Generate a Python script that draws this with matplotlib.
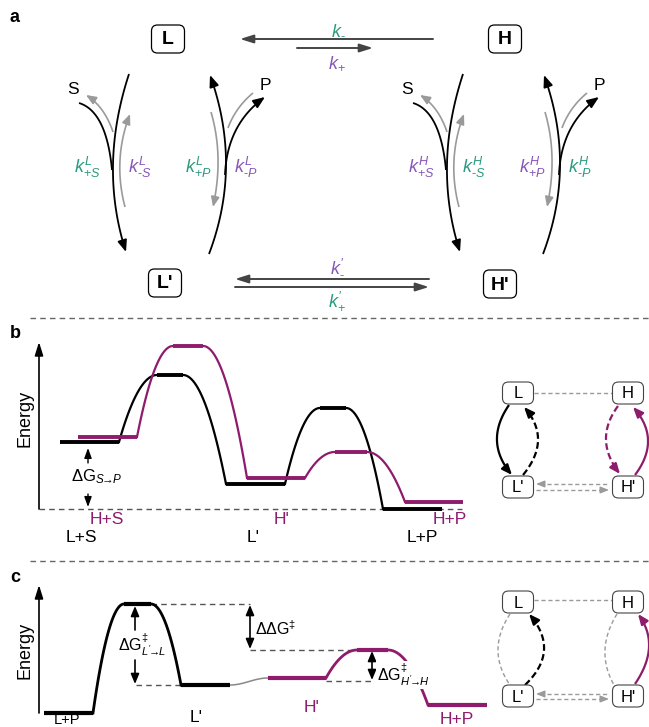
import numpy as np
import matplotlib.pyplot as plt
from matplotlib.patches import FancyBboxPatch

plt.rcParams['font.family'] = ['Liberation Sans', 'DejaVu Sans']
plt.rcParams['mathtext.fontset'] = 'custom'
plt.rcParams['mathtext.rm'] = 'Liberation Sans'
plt.rcParams['mathtext.it'] = 'Liberation Sans:italic'
plt.rcParams['mathtext.bf'] = 'Liberation Sans:bold'

W, H = 649, 727
TEAL = '#2a9a80'
LAV = '#8757b8'
MAG = '#8e1b6c'
GRAY = '#9a9a9a'
DARK = '#444444'
HY = '\u2010'   # short hyphen instead of the long math minus

# energy levels (arbitrary units, 0 = lowest state of each panel)
b_states = ['L+S', "L'", 'L+P']
b_black_E = [0.67, 1.34, 0.25, 1.01, 0.0]      # L: S-bound, TS1, L', TS2, P
b_purple_E = [0.72, 1.63, 0.31, 0.57, 0.07]    # H
c_black_E = [0.0, 1.09, 0.28]                  # L+P, TS, L'
c_purple_E = [0.35, 0.63, 0.08]                # H', TS, H+P

# reaction coordinate spans of each plateau (px along the figure)
b_black_x = [(60, 119), (157, 183), (226, 285), (320, 346), (383, 442)]
b_purple_x = [(78, 137), (173, 203), (247, 305), (335, 367), (405, 463)]
c_black_x = [(44, 93), (124, 151), (181, 230)]
c_purple_x = [(268, 326), (357, 388), (428, 487)]

fig = plt.figure(figsize=(W / 100, H / 100), dpi=100)
ax = fig.add_axes([0, 0, 1, 1])
ax.set_xlim(0, W)
ax.set_ylim(H, 0)
ax.axis('off')


def sub_axes(top, bottom, base, scale=100.0):
    a = fig.add_axes([0, 1 - bottom / H, 1, (bottom - top) / H])
    a.set_xlim(0, W)
    a.set_ylim(-(bottom - base) / scale, (base - top) / scale)
    a.axis('off')
    return a


def head(axx, p_from, p_to, color, lw=1.2, hl=0.7, hw=0.28, ls='-'):
    axx.annotate('', xy=p_to, xytext=p_from,
                 arrowprops=dict(arrowstyle=f'-|>,head_length={hl},head_width={hw}',
                                 color=color, lw=lw, ls=ls, shrinkA=0, shrinkB=0))


def curve(axx, p0, pm, p1, color, lw=1.3, ls='-', arrow=True, hl=0.7, hw=0.28):
    p0, pm, p1 = map(np.asarray, (p0, pm, p1))
    c = 2 * pm - 0.5 * (p0 + p1)
    t = np.linspace(0, 1, 80)[:, None]
    pts = (1 - t) ** 2 * p0 + 2 * (1 - t) * t * c + t ** 2 * p1
    if arrow:
        pts = pts[:-4]
    axx.plot(pts[:, 0], pts[:, 1], color=color, lw=lw, ls=ls, solid_capstyle='butt')
    if arrow:
        d = p1 - c
        d = d / np.hypot(*d)
        head(axx, p1 - d * 5, p1, color, lw=lw, hl=hl, hw=hw)


def box(cx, cy, w, h, txt, bold=False, fs=12, lw=0.9, ec='black'):
    ax.add_patch(FancyBboxPatch((cx - w / 2, cy - h / 2), w, h,
                                boxstyle='round,pad=0,rounding_size=6',
                                fc='white', ec=ec, lw=lw, zorder=3))
    ax.text(cx, cy + 1, txt, ha='center', va='center', fontsize=fs,
            fontweight='bold' if bold else 'normal', zorder=4)


def profile(axx, spans, E, color, lw_level, lw_curve, p=2.0):
    for (x0, x1), e in zip(spans, E):
        axx.plot([x0, x1], [e, e], color=color, lw=lw_level, solid_capstyle='butt', zorder=3)
    for i in range(len(E) - 1):
        xa, ea = spans[i][1], E[i]
        xb, eb = spans[i + 1][0], E[i + 1]
        u = np.linspace(0, 1, 80)
        if eb > ea:
            y = eb + (ea - eb) * (1 - u) ** p
        else:
            y = ea + (eb - ea) * u ** p
        axx.plot(xa + (xb - xa) * u, y, color=color, lw=lw_curve, zorder=3)


# ---------------- panel a ----------------
ax.text(10, 18, 'a', fontsize=13, fontweight='bold', va='center')
box(168, 39, 33, 28, 'L', bold=True, fs=14)
box(505, 39, 33, 28, 'H', bold=True, fs=14)
box(165, 283, 33, 28, "L'", bold=True, fs=14)
box(500, 284, 33, 28, "H'", bold=True, fs=14)

head(ax, (433, 39), (240, 39), DARK, lw=1.4, hl=0.8, hw=0.25)
head(ax, (297, 48), (373, 48), DARK, lw=1.4, hl=0.8, hw=0.25)
ax.text(338, 29, r'$k_{%s}$' % HY, color=TEAL, fontsize=13, ha='center', va='center')
ax.text(337, 63, r'$k_{+}$', color=LAV, fontsize=13, ha='center', va='center')
head(ax, (429, 279), (235, 279), DARK, lw=1.4, hl=0.8, hw=0.25)
head(ax, (235, 287), (429, 287), DARK, lw=1.4, hl=0.8, hw=0.25)
ax.text(337, 266, r"$k^{\prime}_{%s}$" % HY, color=LAV, fontsize=13, ha='center', va='center')
ax.text(337, 301, r"$k^{\prime}_{+}$", color=TEAL, fontsize=13, ha='center', va='center')

for dx, sup, cols in [(0, 'L', (TEAL, LAV, TEAL, LAV)), (334, 'H', (LAV, TEAL, LAV, TEAL))]:
    def P(x, y):
        return (x + dx, y)
    # substrate side
    curve(ax, P(129, 74), P(113, 165), P(126, 252), 'black', lw=1.3)
    curve(ax, P(79, 103), P(101, 124), P(112, 170), 'black', lw=1.3, arrow=False)
    curve(ax, P(113, 132), P(102, 110), P(86, 95), GRAY, lw=1.2, hl=0.6, hw=0.25)
    curve(ax, P(125, 207), P(120, 160), P(130, 114), GRAY, lw=1.2, hl=0.6, hw=0.25)
    # product side
    curve(ax, P(209, 254), P(226, 165), P(210, 75), 'black', lw=1.3)
    curve(ax, P(225, 175), P(236, 130), P(265, 97), 'black', lw=1.3)
    curve(ax, P(228, 128), P(238, 109), P(253, 93), GRAY, lw=1.2, arrow=False)
    curve(ax, P(211, 112), P(218, 158), P(213, 207), GRAY, lw=1.2, hl=0.6, hw=0.25)
    ax.text(*P(73, 90), 'S', fontsize=12.5, ha='center', va='center')
    ax.text(*P(265, 86), 'P', fontsize=12.5, ha='center', va='center')
    for xl, lab, col in zip([87, 140, 198, 246], ['+S', HY + 'S', '+P', HY + 'P'], cols):
        ax.text(*P(xl, 167), r'$k^{%s}_{%s}$' % (sup, lab), color=col, fontsize=13,
                ha='center', va='center')

# separators
for ys in [318, 561]:
    ax.plot([30, W], [ys, ys], color='#666666', lw=1, ls=(0, (4, 3)))

# ---------------- panel b ----------------
ax.text(10, 333, 'b', fontsize=13, fontweight='bold', va='center')
axb = sub_axes(330, 545, 509)
head(axb, (39, 0), (39, 1.67), 'black', lw=1.2, hl=0.8, hw=0.25)
axb.plot([39, 462], [0, 0], color='#555555', lw=1, ls=(0, (4, 3)))
axb.text(25, 0.91, 'Energy', rotation=90, fontsize=13, ha='center', va='center')
profile(axb, b_black_x, b_black_E, 'black', 2.8, 1.6)
profile(axb, b_purple_x, b_purple_E, MAG, 2.8, 1.6)
head(axb, (88, 0.46), (88, 0.61), 'black', lw=1, hl=0.6, hw=0.22)
head(axb, (88, 0.15), (88, 0.02), 'black', lw=1, hl=0.6, hw=0.22)
axb.text(71, 0.32, r'$\Delta\mathrm{G}_{S\!\!\rightarrow\!\! P}$', fontsize=12, va='center')
for x, lab in zip([107, 282, 450], ['H+S', "H'", 'H+P']):
    axb.text(x, -0.10, lab, color=MAG, fontsize=12.5, ha='center', va='center')
for x, lab in zip([81, 253, 422], b_states):
    axb.text(x, -0.29, lab, color='black', fontsize=12.5, ha='center', va='center')

# mini scheme b
for (cx, cy), t in zip([(518, 393), (628, 393), (518, 487), (628, 487)], ['L', 'H', "L'", "H'"]):
    box(cx, cy, 31, 22, t, fs=12, lw=0.8, ec='#444444')
ax.plot([534, 612], [393, 393], color=GRAY, lw=1, ls=(0, (3, 2)))
ax.plot([540, 607], [484, 484], color=GRAY, lw=1, ls=(0, (3, 2)))
head(ax, (542, 484), (536, 484), GRAY, lw=1, hl=0.5, hw=0.2)
ax.plot([536, 603], [490, 490], color=GRAY, lw=1, ls=(0, (3, 2)))
head(ax, (602, 490), (609, 490), GRAY, lw=1, hl=0.5, hw=0.2)
curve(ax, (509, 405), (497, 441), (512, 475), 'black', lw=1.6, hl=0.6, hw=0.25)
curve(ax, (523, 475), (538, 440), (524, 407), 'black', lw=1.6, ls=(0, (3, 1.5)), hl=0.6, hw=0.25)
curve(ax, (618, 406), (606, 440), (620, 474), MAG, lw=1.6, ls=(0, (3, 1.5)), hl=0.6, hw=0.25)
curve(ax, (635, 475), (648, 440), (633, 407), MAG, lw=1.6, hl=0.6, hw=0.25)

# ---------------- panel c ----------------
ax.text(10, 577, 'c', fontsize=13, fontweight='bold', va='center')
axc = sub_axes(575, 727, 713)
head(axc, (39, 0.0), (39, 1.28), 'black', lw=1.2, hl=0.8, hw=0.25)
axc.text(25, 0.63, 'Energy', rotation=90, fontsize=13, ha='center', va='center')
profile(axc, c_black_x, c_black_E, 'black', 3.0, 2.0)
profile(axc, c_purple_x, c_purple_E, MAG, 3.0, 2.0)
u = np.linspace(0, 1, 50)
xa, xb = c_black_x[-1][1], c_purple_x[0][0]
axc.plot(xa + (xb - xa) * u, c_black_E[-1] + (c_purple_E[0] - c_black_E[-1]) * (1 - np.cos(np.pi * u)) / 2,
         color='#888888', lw=1.1)
dash = dict(color='#555555', lw=1, ls=(0, (4, 3)))
axc.plot([151, 250], [c_black_E[1]] * 2, **dash)
axc.plot([250, 357], [c_purple_E[1]] * 2, **dash)
axc.plot([136, 181], [c_black_E[2]] * 2, **dash)
axc.plot([326, 372], [c_purple_E[0] - 0.03] * 2, **dash)
head(axc, (135, 0.83), (135, 1.07), 'black', lw=1.2, hl=0.6, hw=0.25)
head(axc, (135, 0.53), (135, 0.29), 'black', lw=1.2, hl=0.6, hw=0.25)
axc.text(118, 0.68, r"$\Delta\mathrm{G}^{\ddag}_{L^{\prime}\!\!\rightarrow\!\! L}$", fontsize=11.5,
         va='center', bbox=dict(fc='white', ec='none', pad=0.5), zorder=5)
axc.annotate('', xy=(250, c_black_E[1] - 0.01), xytext=(250, c_purple_E[1] + 0.01),
             arrowprops=dict(arrowstyle='<|-|>,head_length=0.6,head_width=0.25', color='black', lw=1.2,
                             shrinkA=0, shrinkB=0))
axc.text(255, 0.84, r'$\Delta\Delta\mathrm{G}^{\ddag}$', fontsize=11.5, va='center')
axc.annotate('', xy=(372, c_purple_E[1] - 0.01), xytext=(372, c_purple_E[0] - 0.02),
             arrowprops=dict(arrowstyle='<|-|>,head_length=0.6,head_width=0.25', color='black', lw=1.2,
                             shrinkA=0, shrinkB=0))
axc.text(377, 0.38, r"$\Delta\mathrm{G}^{\ddag}_{H^{\prime}\!\!\rightarrow\!\! H}$", fontsize=11.5,
         va='center', bbox=dict(fc='white', ec='none', pad=0.5), zorder=5)
axc.text(67, -0.14, 'L+P', fontsize=10.5, ha='center', va='bottom')
axc.text(196, -0.05, "L'", fontsize=12.5, ha='center', va='center')
axc.text(312, 0.05, "H'", color=MAG, fontsize=12.5, ha='center', va='center')
axc.text(457, -0.07, 'H+P', color=MAG, fontsize=12.5, ha='center', va='center')

# mini scheme c
for (cx, cy), t in zip([(518, 602), (628, 602), (518, 696), (628, 696)], ['L', 'H', "L'", "H'"]):
    box(cx, cy, 31, 22, t, fs=12, lw=0.8, ec='#444444')
ax.plot([534, 612], [600, 600], color=GRAY, lw=1, ls=(0, (3, 2)))
ax.plot([540, 607], [694, 694], color=GRAY, lw=1, ls=(0, (3, 2)))
head(ax, (542, 694), (536, 694), GRAY, lw=1, hl=0.5, hw=0.2)
ax.plot([536, 603], [699, 699], color=GRAY, lw=1, ls=(0, (3, 2)))
head(ax, (602, 699), (609, 699), GRAY, lw=1, hl=0.5, hw=0.2)
curve(ax, (510, 614), (498, 650), (510, 685), GRAY, lw=1, ls=(0, (3, 2)), arrow=False)
curve(ax, (525, 685), (544, 650), (529, 614), 'black', lw=1.6, ls=(0, (3, 1.5)), hl=0.6, hw=0.25)
curve(ax, (617, 614), (605, 650), (614, 685), GRAY, lw=1, ls=(0, (3, 2)), arrow=False)
curve(ax, (635, 684), (649, 647), (638, 614), MAG, lw=1.6, hl=0.6, hw=0.25)

fig.savefig('out.png', dpi=100)
